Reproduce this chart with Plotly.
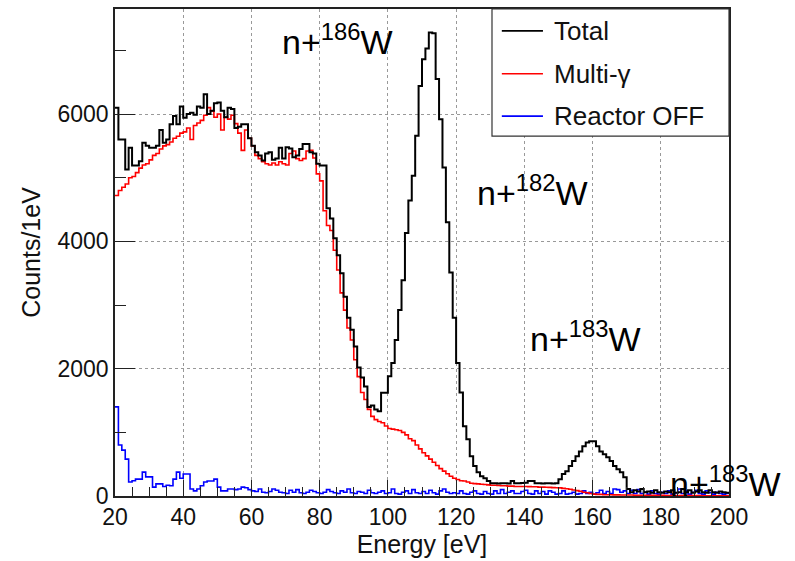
import numpy as np
import plotly.graph_objects as go

E_MIN = 20
BIN_WIDTH = 1

total_counts = [
    6100, 5600, 5600, 5130, 5470, 5190, 5190, 5260, 5550, 5500,
    5470, 5470, 5500, 5750, 5550, 5600, 5840, 5970, 5840, 6120,
    5940, 6000, 6020, 5990, 6120, 6100, 6310, 6000, 6050, 6170,
    6180, 6050, 5950, 6100, 6080, 5780, 5800, 5840, 5840, 5620,
    5500, 5400, 5350, 5270, 5380, 5400, 5280, 5300, 5470, 5300,
    5480, 5460, 5320, 5350, 5450, 5530, 5530, 5400, 5380, 5220,
    5190, 5190, 4520, 4360, 4050, 3780, 3500, 3130, 2800, 2610,
    2350, 2020, 1860, 1720, 1400, 1420, 1360, 1330, 1620, 1620,
    1880, 2090, 2450, 2920, 3390, 4130, 4640, 5030, 5660, 6440,
    6860, 7030, 7280, 7270, 6550, 5920, 5160, 4300, 3510, 2800,
    2090, 1625, 1095, 890, 625, 470, 375, 310, 280, 235,
    200, 200, 195, 200, 200, 195, 235, 200, 200, 205,
    210, 235, 235, 200, 200, 195, 200, 200, 195, 200,
    265, 345, 390, 470, 550, 625, 700, 780, 840, 860,
    860, 780, 700, 655, 610, 550, 470, 420, 375, 295,
    110, 60, 90, 70, 110, 60, 70, 50, 90, 60,
    50, 70, 60, 90, 50, 60, 110, 60, 90, 50,
    70, 90, 60, 50, 90, 60, 50, 70, 60, 50,
]

multi_gamma_counts = [
    4720, 4800, 4850, 4900, 5000, 5020, 5080, 5150, 5200, 5220,
    5280, 5350, 5380, 5450, 5500, 5520, 5560, 5620, 5650, 5700,
    5720, 5780, 5600, 5820, 5860, 5900, 5980, 6100, 6050, 5950,
    6000, 5750, 5950, 5920, 5980, 5850, 5700, 5430, 5750, 5620,
    5500, 5350, 5300, 5250, 5220, 5200, 5230, 5200, 5250, 5220,
    5200, 5380, 5420, 5300, 5270, 5300, 5420, 5430, 5310, 5060,
    4950, 4480, 4250, 4170, 3860, 3550, 3190, 2920, 2640, 2450,
    2140, 1875, 1625, 1515, 1360, 1250, 1200, 1170, 1150, 1100,
    1060, 1050, 1040, 1030, 1000, 960, 900, 870, 800, 740,
    680, 630, 580, 530, 480, 430, 390, 350, 310, 280,
    260, 240, 235, 220, 200, 195, 190, 185, 180, 175,
    170, 170, 165, 160, 160, 155, 155, 150, 150, 150,
    150, 148, 145, 145, 140, 140, 138, 135, 132, 130,
    128, 120, 115, 105, 95, 85, 75, 60, 50, 40,
    30, 25, 25, 20, 20, 20, 18, 18, 15, 15,
    15, 15, 12, 12, 12, 12, 10, 10, 10, 10,
    10, 8, 8, 8, 8, 8, 8, 6, 6, 6,
    6, 6, 5, 5, 5, 5, 5, 5, 5, 5,
]

reactor_off_counts = [
    1400, 800, 720, 580, 220, 240, 265, 265, 375, 300,
    300, 140, 190, 190, 150, 170, 160, 265, 375, 280,
    345, 345, 110, 80, 110, 160, 220, 235, 235, 265,
    140, 80, 80, 110, 110, 100, 110, 140, 130, 100,
    80, 70, 110, 60, 50, 70, 110, 90, 60, 50,
    40, 90, 60, 100, 50, 40, 60, 90, 70, 50,
    40, 60, 100, 70, 50, 40, 80, 60, 110, 50,
    40, 70, 60, 40, 90, 50, 40, 60, 80, 40,
    50, 110, 40, 30, 60, 80, 40, 100, 50, 40,
    70, 40, 90, 50, 30, 80, 110, 60, 40, 50,
    40, 80, 40, 30, 60, 80, 40, 30, 70, 40,
    30, 80, 40, 100, 40, 60, 80, 40, 40, 70,
    90, 40, 30, 80, 40, 70, 30, 80, 60, 30,
    40, 80, 30, 40, 60, 30, 40, 80, 40, 60,
    30, 50, 90, 40, 70, 40, 110, 100, 60, 80,
    40, 90, 40, 100, 40, 60, 30, 80, 40, 30,
    60, 40, 80, 30, 50, 110, 40, 80, 30, 60,
    90, 40, 30, 80, 50, 30, 60, 40, 30, 40,
]

series_names = ["Total", "Multi-\u03b3", "Reactor OFF"]
series_colors = ["#000000", "#ff0000", "#0000ff"]
series_widths = [2.0, 1.6, 1.6]

x_ticks = [20, 40, 60, 80, 100, 120, 140, 160, 180, 200]
y_ticks = [0, 2000, 4000, 6000]

peak_labels = ["n+<sup>186</sup>W", "n+<sup>182</sup>W", "n+<sup>183</sup>W", "n+<sup>183</sup>W"]
peak_label_pos = [(0.269, 0.937), (0.586, 0.627), (0.673, 0.327), (0.901, 0.029)]

FONT = "Liberation Sans, Arial, sans-serif"


def step(values):
    v = np.asarray(values, dtype=float)
    edges = E_MIN + np.arange(len(v) + 1) * BIN_WIDTH
    return edges, np.append(v, v[-1])


fig = go.Figure()
all_vals = [total_counts, multi_gamma_counts, reactor_off_counts]
for i in [2, 1, 0]:
    xs, ys = step(all_vals[i])
    fig.add_trace(go.Scatter(
        x=xs, y=ys, mode="lines", name=series_names[i],
        line=dict(color=series_colors[i], width=series_widths[i], shape="hv"),
        showlegend=False, hoverinfo="skip",
    ))

# Legend drawn as box, line samples and labels
lx0, lx1, ly0, ly1 = 0.614, 1.0, 0.739, 1.0
fig.add_shape(type="rect", xref="paper", yref="paper", x0=lx0, x1=lx1, y0=ly0, y1=ly1,
              line=dict(color="#333333", width=1.2), fillcolor="white", layer="above")
row_y = [0.955, 0.867, 0.780]
for i in range(3):
    fig.add_shape(type="line", xref="paper", yref="paper", x0=0.630, x1=0.697,
                  y0=row_y[i], y1=row_y[i],
                  line=dict(color=series_colors[i], width=1.6), layer="above")
    fig.add_annotation(xref="paper", yref="paper", x=0.712, y=row_y[i],
                       xanchor="left", yanchor="middle", showarrow=False,
                       text=series_names[i], font=dict(family=FONT, size=26, color="#111111"))

for txt, (px, py) in zip(peak_labels, peak_label_pos):
    fig.add_annotation(xref="paper", yref="paper", x=px, y=py, xanchor="left",
                       yanchor="middle", showarrow=False, text=txt,
                       font=dict(family=FONT, size=34, color="#000000"))

fig.update_layout(
    width=795, height=561,
    margin=dict(l=115, r=66, t=7, b=64),
    paper_bgcolor="white", plot_bgcolor="white",
    font=dict(family=FONT, color="#111111"),
    showlegend=False,
)
fig.update_xaxes(
    range=[20, 200], tickvals=x_ticks, ticktext=[str(t) for t in x_ticks],
    ticks="inside", ticklen=16, tickwidth=1.2, tickcolor="#222222",
    minor=dict(dtick=5, ticks="inside", ticklen=9, tickcolor="#222222", showgrid=False),
    showline=True, linecolor="#222222", linewidth=1.5, mirror=True,
    showgrid=True, gridcolor="#999999", griddash="dot", gridwidth=1,
    zeroline=False, tickfont=dict(size=23, family=FONT, color="#111111"),
    title=dict(text="Energy [eV]", font=dict(size=25, family=FONT, color="#111111"), standoff=6),
)
fig.update_yaxes(
    range=[0, 7650], tickvals=y_ticks, ticktext=[str(t) for t in y_ticks],
    ticks="inside", ticklen=20, tickwidth=1.2, tickcolor="#222222",
    minor=dict(dtick=1000, ticks="inside", ticklen=11, tickcolor="#222222", showgrid=False),
    showline=True, linecolor="#222222", linewidth=1.5, mirror=True,
    showgrid=True, gridcolor="#999999", griddash="dot", gridwidth=1,
    zeroline=False, tickfont=dict(size=23, family=FONT, color="#111111"),
    title=dict(text="Counts/1eV", font=dict(size=25, family=FONT, color="#111111"), standoff=10),
)

fig.write_html("out.html")
